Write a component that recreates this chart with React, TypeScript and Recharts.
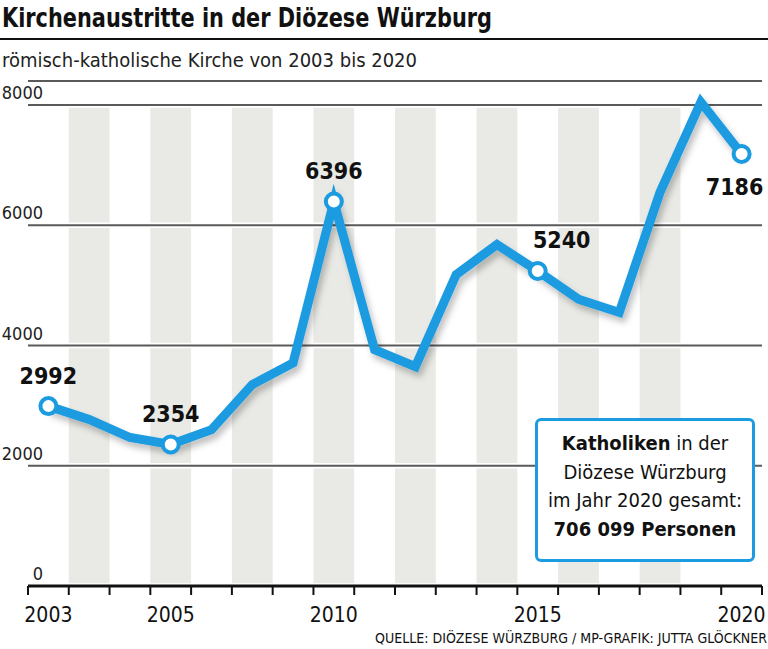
import React from "react";
import { LineChart, Line, XAxis, YAxis, CartesianGrid, ReferenceArea } from "recharts";

// Kirchenaustritte Diözese Würzburg, 2003–2020
const years = [
  "2003", "2004", "2005", "2006", "2007", "2008", "2009", "2010", "2011",
  "2012", "2013", "2014", "2015", "2016", "2017", "2018", "2019", "2020",
];
const austritte = [
  2992, 2770, 2470, 2354, 2600, 3350, 3710, 6396, 3930,
  3650, 5180, 5680, 5240, 4770, 4550, 6550, 8050, 7186,
];
// labels as printed under the axis
const axisLabels = ["2003", "", "", "2005", "", "", "", "2010", "", "", "", "", "2015", "", "", "", "", "2020"];
const markedPoints = [0, 3, 7, 12, 17];
const yTicks = [0, 2000, 4000, 6000, 8000];

const W = 768;
const H = 649;
const Y_AXIS_W = 28;
const MARGIN = { top: 81, right: 6, bottom: 23, left: 0 };
const BAND = (W - Y_AXIS_W - MARGIN.left - MARGIN.right) / years.length;
const BLUE = "#1b9be0";
const BAND_GRAY = "#e9e9e5";
const FONT = '"DejaVu Sans Condensed", "Liberation Sans Narrow", sans-serif';
const GAP = 45; // white gap between gray bands and grid lines (data units)

const data = years.map((year, i) => ({ year, value: austritte[i] }));
const shadedYears = years.filter((_, i) => i % 2 === 1);

// where the value label sits relative to its dot
const labelOffset: Record<number, [number, number]> = {
  12: [24, -31],
  17: [-7, 33],
};

const XTick = ({ x, y, payload }: any) => {
  const i = payload.index
  const last = i === years.length - 1
  return (
    <g>
      <line x1={x - BAND / 2} x2={x - BAND / 2} y1={y} y2={y + 9} stroke="#111" strokeWidth={2} />
      {last && <line x1={x + BAND / 2} x2={x + BAND / 2} y1={y} y2={y + 9} stroke="#111" strokeWidth={2} />}
      <text x={x} y={y + 36} textAnchor="middle" fontFamily={FONT} fontSize={21} fill="#111">
        {axisLabels[i]}
      </text>
    </g>
  )
}

const YTick = ({ y, payload }: any) => (
  <text x={43} y={y - 6} textAnchor="end" fontFamily={FONT} fontSize={18} fill="#222">
    {payload.value}
  </text>
)

const renderDot = (props: any) => {
  const { cx, cy, index } = props
  if (!markedPoints.includes(index)) return <g key={`dot-${index}`} />
  const [dx, dy] = labelOffset[index] ?? [0, -30]
  return (
    <g key={`dot-${index}`}>
      <circle cx={cx} cy={cy} r={8} fill="#fff" stroke={BLUE} strokeWidth={4} />
      <text
        x={cx + dx}
        y={cy + dy}
        textAnchor="middle"
        dominantBaseline="central"
        fontFamily={FONT}
        fontWeight="bold"
        fontSize={23}
        fill="#111"
      >
        {austritte[index]}
      </text>
    </g>
  )
}

export default function App() {
  return (
    <div style={{ position: "absolute", left: 0, top: 0, width: W, height: H, background: "#fff", overflow: "hidden" }}>
      <LineChart width={W} height={H} data={data} margin={MARGIN}>
        <defs>
          <filter id="lineShadow" x="-10%" y="-10%" width="130%" height="130%">
            <feDropShadow dx={3} dy={5} stdDeviation={3} floodColor="#000" floodOpacity={0.25} />
          </filter>
        </defs>
        <CartesianGrid vertical={false} stroke="#5a5a5a" strokeWidth={2} />
        {shadedYears.map((yr) =>
          yTicks.slice(0, -1).map((t, k) => (
            <ReferenceArea
              key={`band-${yr}-${k}`}
              x1={yr}
              x2={yr}
              y1={t + GAP}
              y2={yTicks[k + 1] - GAP}
              fill={BAND_GRAY}
              fillOpacity={1}
              stroke="none"
            />
          )),
        )}
        <XAxis
          dataKey="year"
          scale="band"
          interval={0}
          tickSize={0}
          tickMargin={0}
          height={40}
          axisLine={{ stroke: "#111", strokeWidth: 3 }}
          tickLine={false}
          tick={<XTick />}
        />
        <YAxis
          domain={[0, 8400]}
          ticks={yTicks}
          interval={0}
          width={Y_AXIS_W}
          axisLine={false}
          tickLine={false}
          tick={<YTick />}
        />
        <Line
          dataKey="value"
          stroke={BLUE}
          strokeWidth={9}
          strokeLinejoin="miter"
          filter="url(#lineShadow)"
          dot={renderDot}
          activeDot={false}
          isAnimationActive={false}
        />
      </LineChart>

      <svg width={W} height={80} style={{ position: "absolute", left: 0, top: 0 }}>
        <text x={2} y={27} fontFamily={FONT} fontWeight="bold" fontSize={26} fill="#111" textLength={490} lengthAdjust="spacingAndGlyphs">
          Kirchenaustritte in der Diözese Würzburg
        </text>
        <rect x={0} y={38} width={W} height={2} fill="#111" />
        <text x={2} y={67} fontFamily={FONT} fontSize={19} fill="#222" textLength={415} lengthAdjust="spacingAndGlyphs">
          römisch-katholische Kirche von 2003 bis 2020
        </text>
      </svg>

      <svg width={W} height={30} style={{ position: "absolute", left: 0, top: H - 30 }}>
        <text x={767} y={24} textAnchor="end" fontFamily={FONT} fontSize={14} fill="#111" textLength={392} lengthAdjust="spacingAndGlyphs">
          QUELLE: DIÖZESE WÜRZBURG / MP-GRAFIK: JUTTA GLÖCKNER
        </text>
      </svg>

      <div
        style={{
          position: "absolute",
          left: 535,
          top: 418,
          width: 214,
          height: 130,
          border: `3px solid ${BLUE}`,
          borderRadius: 6,
          background: "#fff",
          fontFamily: FONT,
          fontSize: 20,
          lineHeight: "28.5px",
          color: "#111",
          textAlign: "center",
          paddingTop: 8,
          boxSizing: "content-box",
        }}
      >
        <div><b>Katholiken</b> in der</div>
        <div>Diözese Würzburg</div>
        <div>im Jahr 2020 gesamt:</div>
        <div><b>706 099 Personen</b></div>
      </div>
    </div>
  );
}
